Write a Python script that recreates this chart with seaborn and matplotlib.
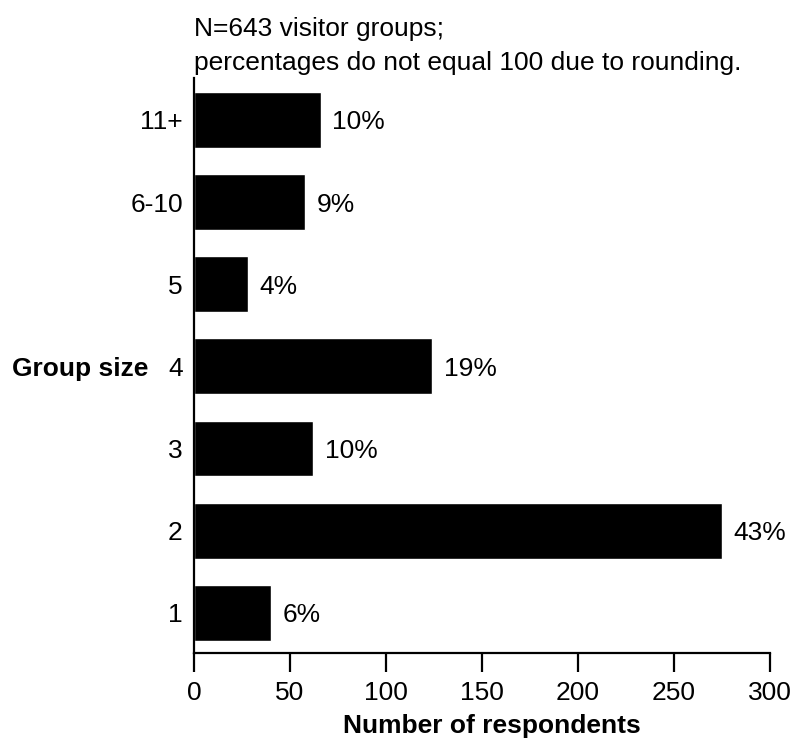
import numpy as np
import matplotlib
matplotlib.use('Agg')
import matplotlib.pyplot as plt
import matplotlib.transforms as mtransforms
import pandas as pd
import seaborn as sns

# data, top bar first
groups = ['11+', '6-10', '5', '4', '3', '2', '1']
counts = [66, 58, 28, 124, 62, 275, 40]
pct_labels = ['10%', '9%', '4%', '19%', '10%', '43%', '6%']
title_text = 'N=643 visitor groups;\npercentages do not equal 100 due to rounding.'

sns.set_style('white')
plt.rcParams['font.family'] = ['Liberation Sans', 'DejaVu Sans']
plt.rcParams['text.color'] = 'black'
plt.rcParams['axes.labelcolor'] = 'black'
plt.rcParams['xtick.color'] = 'black'
plt.rcParams['ytick.color'] = 'black'

fs = 19
df = pd.DataFrame({'group': groups, 'count': counts})

fig = plt.figure(figsize=(7.96, 7.4), dpi=100)
ax = fig.add_axes([0.2437, 0.1176, 0.7237, 0.7770])

sns.barplot(data=df, y='group', x='count', order=groups, orient='h',
            color='black', saturation=1, width=0.68, ax=ax)

for i, (c, p) in enumerate(zip(counts, pct_labels)):
    ax.text(c + 6, i, p, va='center_baseline', ha='left', fontsize=fs)

ax.set_xlim(0, 300)
ax.set_ylim(6.49, -0.51)
ax.set_xticks([0, 50, 100, 150, 200, 250, 300])
ax.tick_params(axis='x', length=14, width=1.6, labelsize=fs, pad=6, direction='out', bottom=True)
ax.tick_params(axis='y', length=0, labelsize=fs, pad=8)

sns.despine(ax=ax)
for s in ['left', 'bottom']:
    ax.spines[s].set_linewidth(1.6)
    ax.spines[s].set_color('black')

ax.set_xlabel('Number of respondents', fontsize=fs, fontweight='bold')
ax.xaxis.set_label_coords(0.517, -0.107)
ax.set_ylabel('Group size', fontsize=fs, fontweight='bold', rotation=0,
              ha='right', va='center_baseline')
lab_tr = mtransforms.blended_transform_factory(fig.transFigure, ax.transData)
ax.yaxis.set_label_coords(148 / 796, 3, transform=lab_tr)

fig.text(194 / 796, 1 - 70 / 740, title_text, ha='left', va='baseline',
         fontsize=fs, linespacing=1.55)

fig.savefig('out.png', dpi=100)
